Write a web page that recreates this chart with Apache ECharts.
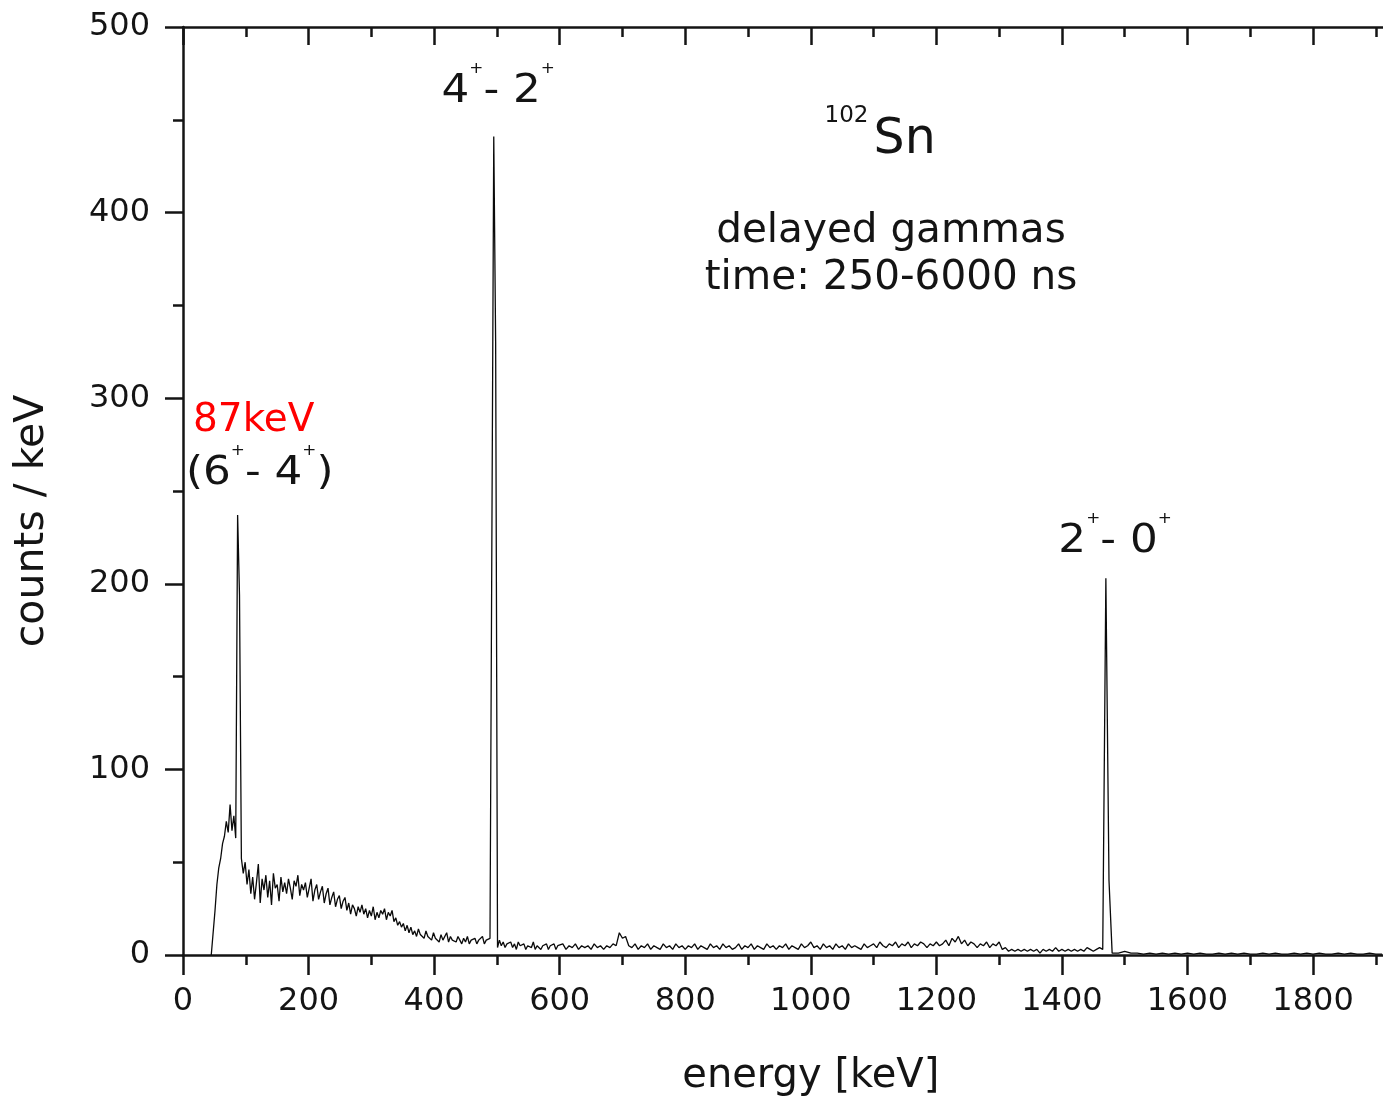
<!DOCTYPE html>
<html>
<head>
<meta charset="utf-8">
<title>102Sn delayed gamma spectrum</title>
<script src="https://cdn.jsdelivr.net/npm/echarts@6.0.0/dist/echarts.min.js"></script>
<style>
  html, body { margin: 0; padding: 0; background: #ffffff; }
  #chart { width: 1383px; height: 1102px; }
</style>
</head>
<body>
<div id="chart"></div>
<script>
// Gamma spectrum, counts per keV, stored as fixed-width energy bins.
// Low-energy part: bins of 3 keV starting at 45 keV.
const lowStart = 45, lowWidth = 3;
const countsLow = [
  0, 0, 24, 38, 47, 52, 60, 64, 72, 66,
  81, 67, 75, 63, 237, 194, 52, 44, 50, 38,
  46, 33, 42, 30, 39, 49, 28, 41, 35, 43,
  31, 40, 27, 44, 36, 38, 29, 42, 34, 39,
  33, 41, 36, 30, 40, 37, 43, 32, 38, 35,
  39, 31, 36, 41, 29, 35, 38, 30, 34, 37,
  28, 33, 36, 27, 31, 34, 26, 30, 32, 25,
  29, 31, 24, 28, 22, 27, 25, 21, 26, 23,
  27, 22, 25, 20, 24, 21, 26, 19, 23, 20,
  24, 22, 25, 19, 23, 21, 24, 18, 20, 16,
  18, 15, 17, 13, 16, 12, 15, 11, 13, 10,
  14, 11, 12, 9, 13, 10, 11, 8, 12, 9,
  10, 7, 11, 8, 9, 12, 7, 10, 8, 9,
  7, 10, 8, 6, 9, 7, 10, 6, 8, 7,
  9, 6, 8, 7, 10, 6, 8, 7, 9, 8,
  441, 330, 4, 8, 5, 7, 4, 6, 5, 7,
  4, 6, 3, 7, 5, 4, 6, 3, 5, 6,
  4, 7, 3, 5, 6, 3, 5, 4, 6, 3,
  5, 4, 6, 3, 5
];

// Middle part: bins of 5 keV starting at 600 keV.
const midStart = 600, midWidth = 5;
const countsMid = [
  4, 6, 3, 5, 4, 6, 3, 5, 4, 5,
  3, 6, 4, 5, 3, 5, 4, 6, 5, 12,
  9, 10, 5, 4, 6, 3, 5, 4, 6, 3,
  5, 4, 3, 6, 4, 5, 3, 6, 4, 5,
  3, 5, 4, 6, 3, 5, 4, 3, 6, 4,
  5, 3, 6, 4, 5, 3, 4, 6, 3, 5,
  4, 6, 3, 5, 4, 3, 6, 4, 5, 3,
  5, 4, 6, 3, 5, 4, 3, 6, 4, 5,
  7, 4, 5, 3, 6, 4, 5, 3, 6, 4,
  5, 3, 6, 4, 5, 4, 3, 6, 4, 5,
  6, 4, 7, 5, 4, 6, 5, 7, 4, 6,
  5, 7, 4, 6, 5, 7, 6, 4, 6, 5,
  7, 5, 6, 8, 5, 9, 7, 10, 6, 8,
  5, 7, 6, 4, 6, 5, 7, 4, 6, 5,
  7, 3, 4, 2, 3, 2, 3, 2, 3, 2,
  3, 2, 3, 1, 3, 2, 3, 2, 4, 2,
  3, 2, 3, 2, 3, 2, 3, 2, 4, 3,
  2, 3, 4, 3, 203, 40, 1
];

// High-energy tail: bins of 10 keV starting at 1490 keV.
const highStart = 1490, highWidth = 10;
const countsHigh = [
  1, 2, 1, 1, 0.5, 1, 0.5, 1, 0.5, 1,
  0.5, 1, 0.5, 1, 0.5, 0.5, 1, 0.5, 1, 0.5,
  1, 0.5, 0.5, 1, 0.5, 1, 0.5, 0.5, 1, 0.5,
  1, 0.5, 1, 0.5, 0.5, 1, 0.5, 1, 0.5, 0.5,
  1, 0.5, 0.5
];

// Axis ranges and tick labels
const energyTicks = [0, 200, 400, 600, 800, 1000, 1200, 1400, 1600, 1800];
const countTicks = [0, 100, 200, 300, 400, 500];

// Transition lines: energy of the bin holding each peak, and its label
const peakEnergies = [87, 495, 1470];
const peakTransitions = [
  [['(6', 0], ['+', 1], ['- 4', 0], ['+', 1], [')', 0]],
  [['4', 0], ['+', 1], ['- 2', 0], ['+', 1]],
  [['2', 0], ['+', 1], ['- 0', 0], ['+', 1]]
];
const lowPeakEnergyLabel = '87keV';

function binsToPoints(start, width, counts) {
  return counts.map((c, i) => [start + i * width, c]);
}
const spectrum = [].concat(
  binsToPoints(lowStart, lowWidth, countsLow),
  binsToPoints(midStart, midWidth, countsMid),
  binsToPoints(highStart, highWidth, countsHigh)
);
function countAt(e) {
  const p = spectrum.find(d => d[0] === e);
  return p ? p[1] : 0;
}

const FONT = 'DejaVu Sans';
const INK = '#141414';
const AXIS_W = 2.5;

const chart = echarts.init(document.getElementById('chart'), null, { renderer: 'canvas' });

const baseX = {
  type: 'value',
  min: 0,
  max: 2000,
  interval: 200,
  splitLine: { show: false },
  axisLine: { show: true, onZero: false, lineStyle: { color: INK, width: AXIS_W } },
  minorTick: { show: true, splitNumber: 2, length: 10, lineStyle: { color: INK, width: AXIS_W } },
  minorSplitLine: { show: false }
};

// The frame runs past the right edge of the page; only up to ~1910 keV is visible.
chart.setOption({
  animation: false,
  backgroundColor: '#ffffff',
  grid: {
    left: 183, top: 27, width: 1255.6, height: 928,
    containLabel: false, outerBoundsMode: 'none'
  },
  xAxis: [
    Object.assign({}, baseX, {
      position: 'bottom',
      name: 'energy [keV]',
      nameLocation: 'middle',
      nameGap: 102,
      nameTextStyle: { fontFamily: FONT, fontSize: 40, color: INK },
      axisTick: { show: true, inside: false, length: 20, lineStyle: { color: INK, width: AXIS_W } },
      axisLabel: {
        show: true, margin: 31, fontFamily: FONT, fontSize: 32, color: INK,
        showMaxLabel: false,
        formatter: v => (energyTicks.indexOf(v) >= 0 ? String(v) : '')
      }
    }),
    Object.assign({}, baseX, {
      position: 'top',
      axisTick: { show: true, inside: true, length: 18, lineStyle: { color: INK, width: AXIS_W } },
      minorTick: { show: true, splitNumber: 2, length: 10, lineStyle: { color: INK, width: AXIS_W } },
      axisLabel: { show: false }
    })
  ],
  yAxis: {
    type: 'value',
    min: 0,
    max: 500,
    interval: 100,
    name: 'counts / keV',
    nameLocation: 'middle',
    nameGap: 130,
    nameRotate: 90,
    nameTextStyle: { fontFamily: FONT, fontSize: 41, color: INK, padding: [0, 60, 0, 0] },
    splitLine: { show: false },
    axisLine: { show: true, onZero: false, lineStyle: { color: INK, width: AXIS_W } },
    axisTick: { show: true, inside: false, length: 18, lineStyle: { color: INK, width: AXIS_W } },
    minorTick: { show: true, splitNumber: 2, length: 10, lineStyle: { color: INK, width: AXIS_W } },
    axisLabel: {
      margin: 33, fontFamily: FONT, fontSize: 32, color: INK,
      formatter: v => (countTicks.indexOf(v) >= 0 ? String(v) : '')
    }
  },
  series: [{
    type: 'line',
    name: 'delayed gammas',
    xAxisIndex: 0,
    yAxisIndex: 0,
    data: spectrum,
    showSymbol: false,
    symbol: 'none',
    smooth: false,
    lineStyle: { color: '#0a0a0a', width: 1.3 },
    clip: true
  }]
});

// Text annotations (pieces laid out left to right, superscripts raised)
const measureCtx = document.createElement('canvas').getContext('2d');
const MAIN_SIZE = 39, SUP_SIZE = 15, SUP_RAISE = -22, LABEL_STRETCH = 1.12;

function textEl(txt, x, y, size, color, align, stretch) {
  return {
    type: 'text', x: x, y: y, scaleX: stretch || 1, silent: true, z: 100,
    style: {
      text: txt, fontSize: size, fontFamily: FONT, fill: color,
      align: align || 'left', verticalAlign: 'middle',
      textAlign: align || 'left', textVerticalAlign: 'middle'
    }
  };
}

function pieces(x0, yMid, parts, color) {
  let x = x0;
  return parts.map(([txt, sup]) => {
    const size = sup ? SUP_SIZE : MAIN_SIZE;
    measureCtx.font = size + 'px "' + FONT + '"';
    const el = textEl(txt, x, yMid + (sup ? SUP_RAISE : 0), size, color, 'left', LABEL_STRETCH);
    x += measureCtx.measureText(txt).width * LABEL_STRETCH;
    return el;
  });
}

// label offsets (px) from each peak top
const labelOffsets = [[-51.6, -41.7], [-52.2, -45.1], [-47.5, -36.8]];

const graphics = [];
peakEnergies.forEach((e, i) => {
  const top = chart.convertToPixel({ xAxisIndex: 0, yAxisIndex: 0 }, [e, countAt(e)]);
  const off = labelOffsets[i];
  graphics.push(...pieces(top[0] + off[0], top[1] + off[1], peakTransitions[i], INK));
  if (i === 0) {
    graphics.push(textEl(lowPeakEnergyLabel, top[0] - 44.6, top[1] - 94.7, MAIN_SIZE, '#ff0000'));
  }
});

// Nucleus and gating information
graphics.push(textEl('102', 824.5, 116.4, 23, INK));
graphics.push(textEl('Sn', 873.6, 140.3, 49, INK));
graphics.push(textEl('delayed gammas', 891, 231.4, 40.5, INK, 'center'));
graphics.push(textEl('time: 250-6000 ns', 891, 278.4, 40.5, INK, 'center'));

chart.setOption({ graphic: { elements: graphics } });
</script>
</body>
</html>
